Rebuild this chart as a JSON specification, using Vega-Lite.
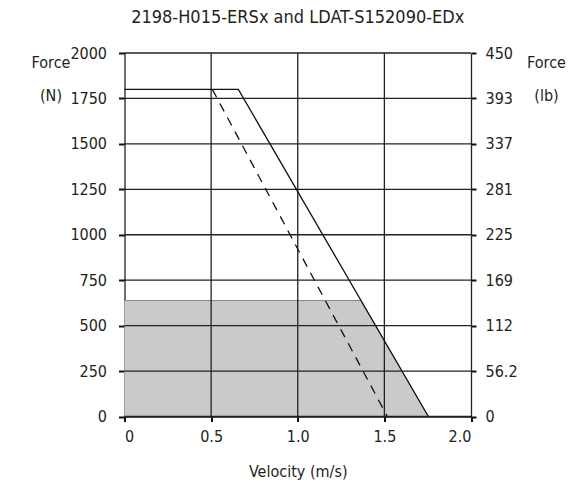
{
  "$schema": "https://vega.github.io/schema/vega-lite/v6.json",
  "width": 346.5,
  "height": 363.5,
  "autosize": "none",
  "padding": {"left": 124.5, "top": 53, "right": 117, "bottom": 74.5},
  "background": "white",
  "config": {
    "view": {"stroke": null},
    "font": "'DejaVu Sans Condensed', Lato, sans-serif",
    "axis": {
      "labelFont": "'DejaVu Sans Condensed', Lato, sans-serif",
      "titleFont": "'DejaVu Sans Condensed', Lato, sans-serif",
      "labelFontSize": 16,
      "titleFontSize": 16,
      "titleFontWeight": "normal",
      "labelColor": "#231f20",
      "titleColor": "#231f20",
      "domainColor": "#222222",
      "domainWidth": 1.3,
      "gridColor": "#222222",
      "gridWidth": 1.3,
      "gridOpacity": 1,
      "tickColor": "#111111",
      "tickWidth": 2
    }
  },
  "title": {
    "text": "2198-H015-ERSx and LDAT-S152090-EDx",
    "font": "'DejaVu Sans Condensed', Lato, sans-serif",
    "fontSize": 18,
    "fontWeight": "normal",
    "color": "#231f20",
    "anchor": "middle",
    "frame": "group",
    "offset": 18
  },
  "datasets": {
    "curves": [
      {"series": "area", "v": 0, "f": 638},
      {"series": "area", "v": 1.365, "f": 638},
      {"series": "area", "v": 1.754, "f": 0},
      {"series": "solid", "v": 0, "f": 1800},
      {"series": "solid", "v": 0.657, "f": 1800},
      {"series": "solid", "v": 1.754, "f": 0},
      {"series": "dashed", "v": 0.507, "f": 1800},
      {"series": "dashed", "v": 1.517, "f": 0}
    ]
  },
  "data": {"name": "curves"},
  "layer": [
    {
      "layer": [
        {
          "transform": [{"filter": "datum.series === 'area'"}],
          "mark": {"type": "area", "color": "#c9cacc", "opacity": 1, "line": {"color": "#8a8a8a", "strokeWidth": 1}},
          "encoding": {
            "x": {"field": "v", "type": "quantitative"},
            "y": {"field": "f", "type": "quantitative"}
          }
        },
        {
          "mark": {"type": "rule", "color": "#222222", "strokeWidth": 1.3},
          "data": {"values": [{"g": 500}, {"g": 750}, {"g": 1000}, {"g": 1250}, {"g": 1500}, {"g": 1750}, {"g": 2000}, {"g": 0}, {"g": 250}]},
          "encoding": {
            "y": {"field": "g", "type": "quantitative"}
          }
        },
        {
          "mark": {"type": "rule", "color": "#222222", "strokeWidth": 1.3},
          "data": {"values": [{"h": 0.5}, {"h": 1.0}, {"h": 1.5}]},
          "encoding": {
            "x": {"field": "h", "type": "quantitative"}
          }
        },
        {
          "transform": [{"filter": "datum.series === 'solid'"}],
          "mark": {"type": "line", "color": "#111111", "strokeWidth": 1.3},
          "encoding": {
            "x": {"field": "v", "type": "quantitative"},
            "y": {"field": "f", "type": "quantitative"}
          }
        },
        {
          "transform": [{"filter": "datum.series === 'dashed'"}],
          "mark": {"type": "line", "color": "#111111", "strokeWidth": 1.3, "strokeDash": [9, 7]},
          "encoding": {
            "x": {"field": "v", "type": "quantitative"},
            "y": {"field": "f", "type": "quantitative"}
          }
        }
      ],
      "encoding": {
        "x": {
          "type": "quantitative",
          "scale": {"domain": [0, 2], "nice": false, "zero": true},
          "axis": {
            "values": [0, 0.5, 1, 1.5, 2],
            "grid": false,
            "tickSize": 5,
            "labelPadding": 7,
            "labelExpr": "datum.value === 0 ? '0' : format(datum.value, '.1f')",
            "title": "Velocity (m/s)",
            "titleX": 173.25,
            "titleY": 60,
            "titleAlign": "center",
            "titleBaseline": "alphabetic",
            "titleAnchor": null
          }
        },
        "y": {
          "type": "quantitative",
          "scale": {"domain": [0, 2000], "nice": false},
          "axis": {
            "values": [0, 250, 500, 750, 1000, 1250, 1500, 1750, 2000],
            "grid": false,
            "tickSize": 6,
            "labelPadding": 12,
            "labelFlush": false,
            "format": "d",
            "title": ["Force", "(N)"],
            "titleAngle": 0,
            "titleAlign": "center",
            "titleBaseline": "alphabetic",
            "titleX": -74,
            "titleY": 14,
            "titleLineHeight": 33,
            "titleAnchor": null
          }
        }
      }
    },
    {
      "transform": [{"filter": "datum.series === 'solid'"}],
      "mark": {"type": "point", "opacity": 0},
      "encoding": {
        "y": {
          "field": "f",
          "type": "quantitative",
          "scale": {"domain": [0, 2000], "nice": false},
          "axis": {
            "orient": "right",
            "values": [0, 250, 500, 750, 1000, 1250, 1500, 1750, 2000],
            "grid": false,
            "tickSize": 5,
            "labelPadding": 9,
            "labelFlush": false,
            "labelExpr": "['0','56.2','112','169','225','281','337','393','450'][round(datum.value / 250)]",
            "title": ["Force", "(lb)"],
            "titleAngle": 0,
            "titleAlign": "center",
            "titleBaseline": "alphabetic",
            "titleX": 75,
            "titleY": 14,
            "titleLineHeight": 33,
            "titleAnchor": null
          }
        }
      }
    }
  ],
  "resolve": {"scale": {"y": "independent"}, "axis": {"y": "independent"}}
}
